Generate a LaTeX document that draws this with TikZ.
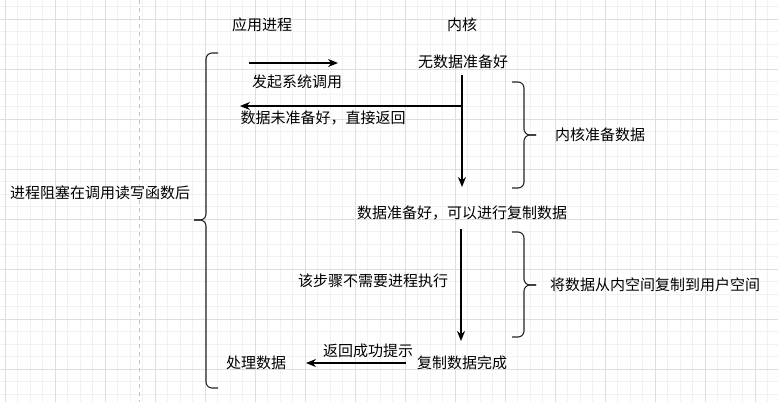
\documentclass[tikz,border=0pt]{standalone}
\usepackage{fontspec}
\newfontfamily\cjk{Noto Sans CJK SC}
\usetikzlibrary{arrows.meta}

\definecolor{gridminor}{HTML}{F1F1F1}
\definecolor{gridmajor}{HTML}{DEDEDE}
\definecolor{pageline}{HTML}{C4C4C4}

\tikzset{
  label text/.style={font=\cjk\fontsize{15}{18}\selectfont, inner sep=0pt},
  flow/.style={draw=black, line width=1.2pt, -{Stealth[length=10pt,width=8pt]}},
  bracket/.style={draw=black!85, line width=1.1pt, rounded corners=6pt},
}

\begin{document}
\begin{tikzpicture}[x=1pt,y=-1pt]
  \useasboundingbox (0,0) rectangle (778,402);
  \fill[white] (0,0) rectangle (778,402);

  % grid
  \foreach \gx in {0,...,62}
    \draw[gridminor, line width=0.8pt] ({5+12.5*\gx},0) -- ({5+12.5*\gx},402);
  \foreach \gy in {0,...,31}
    \draw[gridminor, line width=0.8pt] (0,{6.5+12.5*\gy}) -- (778,{6.5+12.5*\gy});
  \foreach \gx in {0,...,15}
    \draw[gridmajor, line width=0.8pt] ({5+50*\gx},0) -- ({5+50*\gx},402);
  \foreach \gy in {0,...,7}
    \draw[gridmajor, line width=0.8pt] (0,{19+50*\gy}) -- (778,{19+50*\gy});
  \draw[pageline, line width=0.8pt, dash pattern=on 4pt off 4pt] (139.5,0) -- (139.5,402);

  % labels
  \node[label text] (app) at (262,25) {应用进程};
  \node[label text] (kernel) at (462,25) {内核};
  \node[label text] (nodata) at (463,62) {无数据准备好};
  \node[label text] (syscall) at (297,82) {发起系统调用};
  \node[label text] (notready) at (323,118) {数据未准备好，直接返回};
  \node[label text] (prepare) at (600,135) {内核准备数据};
  \node[label text] (blocked) at (100,193) {进程阻塞在调用读写函数后};
  \node[label text] (ready) at (462,213) {数据准备好，可以进行复制数据};
  \node[label text] (noproc) at (373,281) {该步骤不需要进程执行};
  \node[label text] (copy) at (655,285) {将数据从内空间复制到用户空间};
  \node[label text] (success) at (368,351) {返回成功提示};
  \node[label text] (done) at (462,363) {复制数据完成};
  \node[label text] (handle) at (256,363) {处理数据};

  % connector ends
  \coordinate (call start) at (249,63);
  \coordinate (call end) at (338,63);
  \coordinate (wait top) at (462,75);
  \coordinate (wait end) at (462,187);
  \coordinate (back start) at (462,106);
  \coordinate (back end) at (240,106);
  \coordinate (copy top) at (461,229);
  \coordinate (copy end) at (461,341);
  \coordinate (ok start) at (406,363);
  \coordinate (ok end) at (306,363);

  \draw[flow] (call start) -- (call end);
  \draw[flow] (wait top) -- (wait end);
  \draw[flow] (back start) -- (back end);
  \draw[flow] (copy top) -- (copy end);
  \draw[flow] (ok start) -- (ok end);

  % brackets
  \draw[bracket] (512,82) -- (524,82) -- (524,135) -- (536,135);
  \draw[bracket] (536,135) -- (524,135) -- (524,188) -- (512,188);
  \draw[bracket] (512,232) -- (524,232) -- (524,285) -- (536,285);
  \draw[bracket] (536,285) -- (524,285) -- (524,337) -- (512,337);
  \draw[bracket] (218,53) -- (206,53) -- (206,220) -- (194,220);
  \draw[bracket] (194,220) -- (206,220) -- (206,388) -- (218,388);
\end{tikzpicture}
\end{document}
